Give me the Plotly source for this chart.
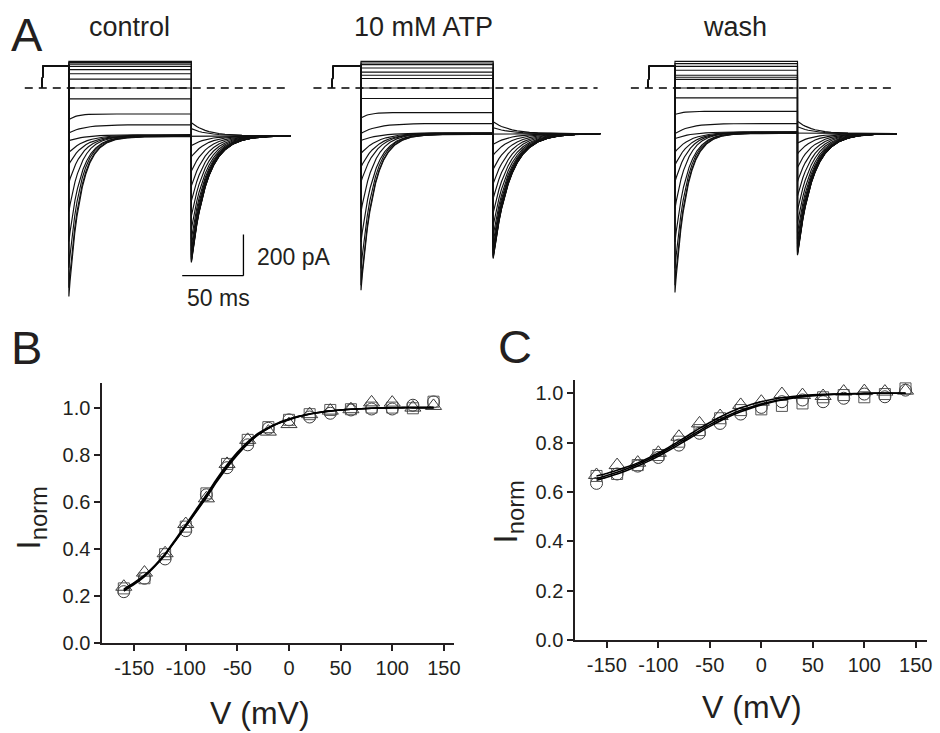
import plotly.graph_objects as go

W, H = 940, 733          # reference canvas
PAGE_H = 744             # page height that the capture squeezes into 733 px
FONT = "Liberation Sans, Arial, Helvetica, sans-serif"

# ---------------- Panel A : current traces ----------------
PANELS = ["control", "10 mM ATP", "wash"]
PREPULSE_T = [-22, -21, 0]          # ms
PREPULSE_I = [105, 105]             # pA (level of pre-pulse)
STEP_END = 100                      # ms
TAIL_END = 181                      # ms
DASH_T = [-36, 179]                 # ms, zero-current dashed line

# normalized relaxation shape (time in units of tau, fraction remaining)
PROF_X = [0, 0.1, 0.2, 0.35, 0.5, 0.7, 0.9, 1.15, 1.45, 1.8, 2.2, 2.7, 3.3, 4.0, 5.0, 6.5, 9.0]
PROF_F = [1.0, 0.905, 0.819, 0.705, 0.607, 0.497, 0.407, 0.317, 0.235, 0.165, 0.111, 0.067, 0.037, 0.018, 0.007, 0.0015, 0.0001]

# per trace: current at step onset, at end of step, relaxation time (ms), tail peak (pA)
CTRL_STEP_START = [129, 123, 116, 105, 89, 69, 43, 0, -53, -154, -218, -255, -313, -371, -459, -599, -744, -870, -967, -1010]
CTRL_STEP_END = [129, 123, 116, 105, 89, 69, 43, 0, -53, -126, -178, -226, -228, -230, -231, -232, -233, -234, -235, -236]
CTRL_TAIL_PEAK = [-845, -841, -836, -831, -826, -817, -807, -788, -764, -731, -682, -619, -547, -474, -402, -333, -279, -231, -197, -168]
CTRL_TAIL_SS = -231

ATP_STEP_START = [129, 121, 113, 97, 77, 62, 46, 0, -51, -145, -220, -254, -317, -382, -455, -600, -745, -874, -955, -979]
ATP_STEP_END = [129, 121, 113, 97, 77, 62, 46, 0, -51, -119, -172, -217, -218, -219, -220, -221, -222, -223, -224, -225]
ATP_TAIL_PEAK = [-826, -822, -817, -812, -807, -798, -788, -770, -746, -714, -666, -605, -534, -463, -393, -325, -273, -226, -192, -164]
ATP_TAIL_SS = -221

WASH_STEP_START = [129, 118, 105, 86, 62, 52, 42, 0, -48, -129, -221, -245, -310, -374, -455, -584, -745, -874, -955, -990]
WASH_STEP_END = [129, 118, 105, 86, 62, 52, 42, 0, -48, -113, -172, -212, -213, -214, -215, -216, -217, -218, -219, -220]
WASH_TAIL_PEAK = [-810, -806, -801, -796, -791, -782, -773, -755, -732, -700, -653, -593, -524, -454, -385, -319, -267, -221, -188, -161]
WASH_TAIL_SS = -221

STEP_TAU = [10, 10, 10, 10, 10, 10, 10, 10, 10, 6, 12, 14, 13, 12, 11, 10, 10, 9.5, 9.5, 9.5]
TAIL_TAU = 12.5

# ---------------- Panels B and C : normalized currents ----------------
V = [-160, -140, -120, -100, -80, -60, -40, -20, 0, 20, 40, 60, 80, 100, 120, 140]
B_CIRCLE = [0.219, 0.276, 0.358, 0.478, 0.630, 0.745, 0.842, 0.912, 0.948, 0.960, 0.976, 0.990, 0.994, 0.994, 1.010, 1.024]
B_SQUARE = [0.233, 0.276, 0.378, 0.495, 0.636, 0.761, 0.863, 0.917, 0.948, 0.972, 0.990, 0.993, 1.000, 1.000, 0.997, 1.025]
B_TRIANGLE = [0.240, 0.300, 0.382, 0.506, 0.615, 0.761, 0.863, 0.898, 0.930, 0.972, 0.987, 0.993, 1.022, 1.021, 1.000, 1.007]

C_CIRCLE = [0.635, 0.673, 0.705, 0.740, 0.790, 0.838, 0.878, 0.916, 0.943, 0.966, 0.973, 0.966, 0.980, 0.997, 0.986, 1.013]
C_SQUARE = [0.665, 0.673, 0.709, 0.750, 0.804, 0.851, 0.899, 0.932, 0.935, 0.949, 0.959, 0.984, 0.993, 0.984, 0.997, 1.020]
C_TRIANGLE = [0.669, 0.709, 0.719, 0.759, 0.824, 0.878, 0.908, 0.953, 0.966, 0.997, 0.993, 0.989, 1.007, 1.009, 1.007, 1.011]

FIT_V = [-160, -150, -140, -130, -120, -110, -100, -90, -80, -70, -60, -50, -40, -30, -20, -10,
         0, 10, 20, 30, 40, 50, 60, 70, 80, 90, 100, 110, 120, 130, 140]
B_FIT1 = [0.222, 0.250, 0.283, 0.326, 0.375, 0.435, 0.497, 0.560, 0.622, 0.690, 0.750, 0.803, 0.849, 0.885, 0.912, 0.933,
          0.948, 0.962, 0.972, 0.979, 0.985, 0.990, 0.993, 0.995, 0.997, 0.998, 0.999, 1.0, 1.0, 1.0, 1.0]
B_FIT2 = [0.226, 0.254, 0.287, 0.330, 0.380, 0.441, 0.503, 0.567, 0.630, 0.697, 0.757, 0.810, 0.855, 0.890, 0.916, 0.936,
          0.951, 0.964, 0.973, 0.980, 0.986, 0.990, 0.993, 0.995, 0.997, 0.998, 0.999, 1.0, 1.0, 1.0, 1.0]
B_FIT3 = [0.230, 0.257, 0.289, 0.329, 0.377, 0.436, 0.496, 0.557, 0.618, 0.685, 0.745, 0.799, 0.846, 0.884, 0.912, 0.934,
          0.950, 0.963, 0.973, 0.980, 0.986, 0.990, 0.993, 0.995, 0.997, 0.998, 0.999, 1.0, 1.0, 1.0, 1.0]
C_FIT1 = [0.665, 0.675, 0.688, 0.702, 0.718, 0.737, 0.758, 0.781, 0.806, 0.832, 0.858, 0.882, 0.904, 0.924, 0.941, 0.955,
          0.966, 0.975, 0.982, 0.987, 0.991, 0.994, 0.996, 0.997, 0.998, 0.999, 1.0, 1.0, 1.0, 1.0, 1.0]
C_FIT2 = [0.648, 0.660, 0.673, 0.688, 0.705, 0.724, 0.745, 0.768, 0.792, 0.817, 0.842, 0.866, 0.888, 0.908, 0.925, 0.940,
          0.953, 0.964, 0.973, 0.980, 0.986, 0.990, 0.993, 0.995, 0.997, 0.998, 0.999, 1.0, 1.0, 1.0, 1.0]
C_FIT3 = [0.655, 0.667, 0.680, 0.695, 0.712, 0.731, 0.752, 0.775, 0.799, 0.824, 0.849, 0.873, 0.895, 0.914, 0.931, 0.945,
          0.957, 0.967, 0.975, 0.982, 0.987, 0.991, 0.994, 0.996, 0.997, 0.998, 0.999, 1.0, 1.0, 1.0, 1.0]

X_TICKS = [-150, -100, -50, 0, 50, 100, 150]
X_TICK_TEXT = ["-150", "-100", "-50", "0", "50", "100", "150"]
Y_TICKS = [0.0, 0.2, 0.4, 0.6, 0.8, 1.0]
Y_TICK_TEXT = ["0.0", "0.2", "0.4", "0.6", "0.8", "1.0"]

# ---------------- build figure ----------------
fig = go.Figure()


def relax_points(t0, dur, start, end, tau):
    ts, ys = [], []
    for x, f in zip(PROF_X, PROF_F):
        t = x * tau
        if t >= dur:
            break
        ts.append(t0 + t)
        ys.append(end + (start - end) * f)
    ts.append(t0 + dur)
    ys.append(end)
    return ts, ys


panel_data = [
    ("x", CTRL_STEP_START, CTRL_STEP_END, CTRL_TAIL_PEAK, CTRL_TAIL_SS),
    ("x2", ATP_STEP_START, ATP_STEP_END, ATP_TAIL_PEAK, ATP_TAIL_SS),
    ("x3", WASH_STEP_START, WASH_STEP_END, WASH_TAIL_PEAK, WASH_TAIL_SS),
]

for xa, s0, s1, tp, tss in panel_data:
    # zero-current dashed line
    fig.add_trace(go.Scatter(x=DASH_T, y=[0, 0], mode="lines", xaxis=xa, yaxis="y",
                             line=dict(color="black", width=1.6, dash="8px,6px"),
                             hoverinfo="skip", showlegend=False))
    for i in range(len(s0)):
        xs = [PREPULSE_T[0], PREPULSE_T[1], PREPULSE_T[2]]
        ys = [0, PREPULSE_I[0], PREPULSE_I[1]]
        a, b = relax_points(0, STEP_END, s0[i], s1[i], STEP_TAU[i])
        xs += a
        ys += b
        c, d = relax_points(STEP_END, TAIL_END - STEP_END, tp[i], tss, TAIL_TAU)
        xs += c
        ys += d
        fig.add_trace(go.Scatter(x=xs, y=ys, mode="lines", xaxis=xa, yaxis="y",
                                 line=dict(color="#111111", width=1.15),
                                 hoverinfo="skip", showlegend=False))

# B and C
MK = "#3a3a3a"
for xa, ya, circ, sq, tri, fits in [
    ("x4", "y4", B_CIRCLE, B_SQUARE, B_TRIANGLE, [B_FIT1, B_FIT2, B_FIT3]),
    ("x5", "y5", C_CIRCLE, C_SQUARE, C_TRIANGLE, [C_FIT1, C_FIT2, C_FIT3]),
]:
    fig.add_trace(go.Scatter(x=V, y=circ, mode="markers", xaxis=xa, yaxis=ya, showlegend=False,
                             marker=dict(symbol="circle-open", size=12, color=MK, line=dict(color=MK, width=1))))
    fig.add_trace(go.Scatter(x=V, y=sq, mode="markers", xaxis=xa, yaxis=ya, showlegend=False,
                             marker=dict(symbol="square-open", size=11, color="#555555", line=dict(color="#555555", width=1))))
    fig.add_trace(go.Scatter(x=V, y=tri, mode="markers", xaxis=xa, yaxis=ya, showlegend=False,
                             marker=dict(symbol="triangle-up-open", size=14, color=MK, line=dict(color=MK, width=1))))
    for f in fits:
        fig.add_trace(go.Scatter(x=FIT_V, y=f, mode="lines", xaxis=xa, yaxis=ya, showlegend=False,
                                 line=dict(color="black", width=1.6, shape="spline", smoothing=0.6)))


def px(x):
    return x / W


def py(y):
    return 1 - y / H


hidden = dict(visible=False, showgrid=False, zeroline=False)
fig.update_layout(
    width=W, height=PAGE_H,
    margin=dict(l=0, r=0, t=0, b=0),
    paper_bgcolor="white", plot_bgcolor="white",
    font=dict(family=FONT, color="#231f20"),
    showlegend=False,
    xaxis=dict(domain=[px(20), px(300)], range=[-40, 187.1], anchor="y", **hidden),
    xaxis2=dict(domain=[px(310), px(615)], range=[-40.1, 189.2], anchor="y", **hidden),
    xaxis3=dict(domain=[px(630), px(910)], range=[-40, 187.1], anchor="y", **hidden),
    yaxis=dict(domain=[py(305), py(50)], range=[(88 - 305) * 4.843, (88 - 50) * 4.843], anchor="x", **hidden),
)

axis_style = dict(showline=True, linecolor="#231f20", linewidth=2, ticks="outside", ticklen=6,
                  tickwidth=2, tickcolor="#231f20", showgrid=False, zeroline=False,
                  tickfont=dict(size=20, family=FONT, color="#231f20"))
fig.update_layout(
    xaxis4=dict(domain=[px(103), px(457.3)], range=[-180.8, 160.2], anchor="y4",
                tickvals=X_TICKS, ticktext=X_TICK_TEXT, **axis_style),
    yaxis4=dict(domain=[py(643.3), py(383.3)], range=[0, 1.103], anchor="x4",
                tickvals=Y_TICKS, ticktext=Y_TICK_TEXT, **axis_style),
    xaxis5=dict(domain=[px(579), px(933.3)], range=[-180.6, 161.2], anchor="y5",
                tickvals=X_TICKS, ticktext=X_TICK_TEXT, **axis_style),
    yaxis5=dict(domain=[py(640), py(380)], range=[0, 1.054], anchor="x5",
                tickvals=Y_TICKS, ticktext=Y_TICK_TEXT, **axis_style),
)

# scale bars in control panel (50 ms, 200 pA)
SCALE_T = [92.5, 142.5]
SCALE_I = [-909, -709]
fig.add_shape(type="line", xref="x", yref="y", x0=SCALE_T[0], x1=SCALE_T[1], y0=SCALE_I[0], y1=SCALE_I[0],
              line=dict(color="black", width=1.3))
fig.add_shape(type="line", xref="x", yref="y", x0=SCALE_T[1], x1=SCALE_T[1], y0=SCALE_I[0], y1=SCALE_I[1],
              line=dict(color="black", width=1.3))


def ann(text, x, y, size, xanchor="center", angle=0):
    fig.add_annotation(text=text, x=px(x), y=py(y), xref="paper", yref="paper", showarrow=False,
                       xanchor=xanchor, yanchor="middle", textangle=angle,
                       font=dict(size=size, family=FONT, color="#231f20"))


ann("A", 9, 34, 47, "left")
ann("B", 9, 347, 47, "left")
ann("C", 499, 346, 47, "left")
ann("control", 130, 27, 27)
ann("10 mM ATP", 426, 27, 27)
ann("wash", 739.5, 27, 27)
ann("200 pA", 257, 257, 23, "left")
ann("50 ms", 220, 298, 23)
ann("V (mV)", 262, 713, 32)
ann("V (mV)", 757, 707, 32)
ann("I<sub>norm</sub>", 30, 518, 34, angle=-90)
ann("I<sub>norm</sub>", 510, 512, 34, angle=-90)

POST = ("document.documentElement.style.margin='0';document.documentElement.style.padding='0';"
        "document.body.style.margin='0';document.body.style.padding='0';document.body.style.overflow='hidden';")
fig.write_html("out.html", config={"displayModeBar": False, "staticPlot": True}, post_script=POST)
